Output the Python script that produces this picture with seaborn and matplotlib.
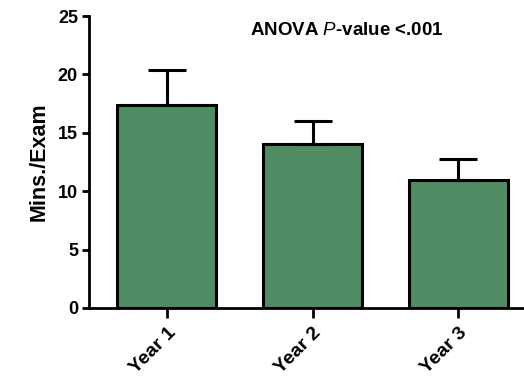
import matplotlib
matplotlib.use("Agg")
import matplotlib.pyplot as plt
import seaborn as sns
import pandas as pd

categories = ["Year 1", "Year 2", "Year 3"]
means = [17.4, 14.0, 11.0]
errors = [2.95, 2.05, 1.75]
yticks = [0, 5, 10, 15, 20, 25]

sns.set_theme(style="ticks")
plt.rcParams["font.family"] = ["Liberation Sans", "DejaVu Sans"]
plt.rcParams["mathtext.fontset"] = "custom"
plt.rcParams["mathtext.it"] = "Liberation Sans:italic"
plt.rcParams["mathtext.rm"] = "Liberation Sans:bold"
plt.rcParams["text.color"] = "black"
plt.rcParams["axes.labelcolor"] = "black"
plt.rcParams["xtick.color"] = "black"
plt.rcParams["ytick.color"] = "black"

df = pd.DataFrame({"year": categories, "mins": means})

fig = plt.figure(figsize=(5.24, 3.83), dpi=100)
ax = fig.add_axes([0.170, 0.196, 0.83, 0.762])

color = "#4f8b63"
sns.barplot(data=df, x="year", y="mins", color=color, width=0.68,
            edgecolor="black", linewidth=2.2, saturation=1, ax=ax, errorbar=None)
ax.errorbar(range(len(categories)), means, yerr=[[0] * len(errors), errors],
            fmt="none", ecolor="black", elinewidth=2.2, capsize=14, capthick=2.2, zorder=1)

ax.set_ylim(0, 25)
ax.set_xlim(-0.534, 2.45)
ax.set_yticks(yticks)
ax.set_yticklabels([str(t) for t in yticks], fontsize=13, fontweight="bold")
ax.set_xticks(range(len(categories)))
ax.set_xticklabels(categories, rotation=45, ha="right", rotation_mode="anchor",
                   fontsize=14, fontweight="bold")
ax.set_xlabel("")
ax.set_ylabel("Mins./Exam", fontsize=15.5, fontweight="bold", labelpad=6)

for s in ["top", "right"]:
    ax.spines[s].set_visible(False)
for s in ["left", "bottom"]:
    ax.spines[s].set_linewidth(2.0)
    ax.spines[s].set_color("black")
ax.tick_params(axis="y", length=5, width=2.0, pad=3)
ax.tick_params(axis="x", length=7, width=2.0, pad=5)

ax.text(0.592, 0.95, r"ANOVA $\mathit{P}$-value <.001", transform=ax.transAxes,
        ha="center", va="center", fontsize=13.5, fontweight="bold")

fig.savefig("out.png", dpi=100)
